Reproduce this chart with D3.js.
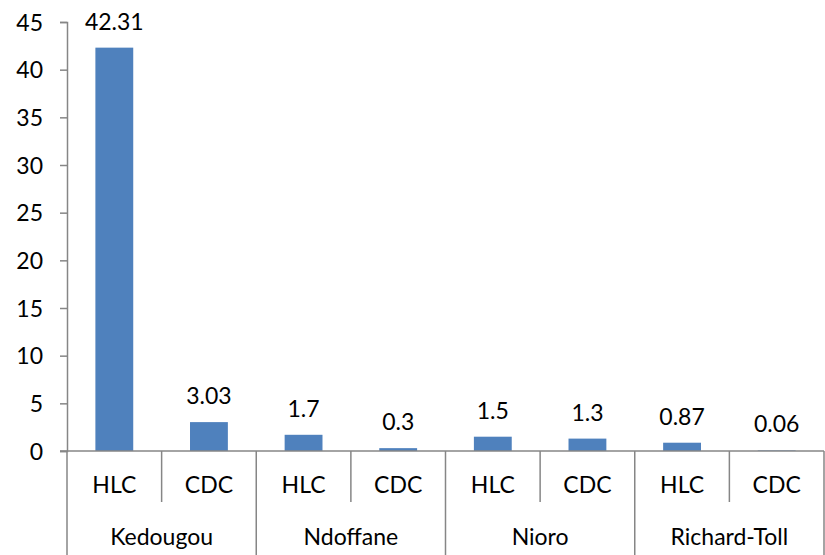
<!DOCTYPE html>
<html>
<head>
<meta charset="utf-8">
<script src="https://cdn.jsdelivr.net/npm/d3@7"></script>
<style>
  html, body { margin: 0; padding: 0; background: #fff; }
  svg text { font-family: Lato, "Open Sans", sans-serif; fill: #000; }
</style>
</head>
<body>
<svg id="chart" width="825" height="555"></svg>
<script>
// Sites (outer level) and measurement types (inner level)
const sites = ["Kedougou", "Ndoffane", "Nioro", "Richard-Toll"];
const types = ["HLC", "CDC"];
// One value per site/type pair, in site order
const values = [42.31, 3.03, 1.7, 0.3, 1.5, 1.3, 0.87, 0.06];
const valueLabels = ["42.31", "3.03", "1.7", "0.3", "1.5", "1.3", "0.87", "0.06"];
const yTicks = [0, 5, 10, 15, 20, 25, 30, 35, 40, 45];

const rows = [];
sites.forEach((s, i) => types.forEach((t, j) => {
  const k = i * types.length + j;
  rows.push({ key: s + "|" + t, site: s, type: t, value: values[k], label: valueLabels[k] });
}));

const svg = d3.select("#chart");
const M = { left: 67, right: 824, top: 22, base: 451, bottom: 555 };
const axisColor = "#868686";
const fs = 23;

const x = d3.scaleBand().domain(rows.map(d => d.key)).range([M.left, M.right]).paddingInner(0.6).paddingOuter(0.3);
const bandX = d3.scaleBand().domain(rows.map(d => d.key)).range([M.left, M.right]);
const siteX = d3.scaleBand().domain(sites).range([M.left, M.right]);
const y = d3.scaleLinear().domain([0, 45]).range([M.base, M.top]);

// y axis
const yAxis = svg.append("g").attr("transform", `translate(${M.left},0)`)
  .call(d3.axisLeft(y).tickValues(yTicks).tickSize(7).tickPadding(17).tickFormat(d3.format("d")));
yAxis.select(".domain").attr("stroke", axisColor).attr("stroke-width", 1.5);
yAxis.selectAll(".tick line").attr("stroke", axisColor).attr("stroke-width", 1.5);
yAxis.selectAll(".tick text").attr("font-size", fs).attr("dy", "0.36em").attr("fill", "#000");

// bars
svg.append("g").selectAll("rect").data(rows).join("rect")
  .attr("x", d => x(d.key))
  .attr("width", x.bandwidth())
  .attr("y", d => y(d.value))
  .attr("height", d => M.base - y(d.value))
  .attr("fill", "#4F81BD");

// value labels
svg.append("g").selectAll("text").data(rows).join("text")
  .attr("x", d => x(d.key) + x.bandwidth() / 2)
  .attr("y", d => y(d.value) - 18)
  .attr("text-anchor", "middle")
  .attr("font-size", fs)
  .text(d => d.label);

// category axis: baseline, inner separators, site separators
const cat = svg.append("g").attr("stroke", axisColor).attr("stroke-width", 1.5);
cat.append("line").attr("x1", M.left - 7).attr("x2", M.right).attr("y1", M.base).attr("y2", M.base);
rows.forEach((d, i) => {
  if (i % types.length !== 0) {
    const xx = bandX(d.key);
    cat.append("line").attr("x1", xx).attr("x2", xx).attr("y1", M.base).attr("y2", 502);
  }
});
sites.concat(["__end"]).forEach((s, i) => {
  const xx = i < sites.length ? siteX(s) : M.right;
  cat.append("line").attr("x1", xx).attr("x2", xx).attr("y1", M.base).attr("y2", M.bottom);
});

// inner labels
svg.append("g").selectAll("text").data(rows).join("text")
  .attr("x", d => bandX(d.key) + bandX.bandwidth() / 2)
  .attr("y", 493)
  .attr("text-anchor", "middle")
  .attr("font-size", fs)
  .text(d => d.type);

// site labels
svg.append("g").selectAll("text").data(sites).join("text")
  .attr("x", d => siteX(d) + siteX.bandwidth() / 2)
  .attr("y", 545)
  .attr("text-anchor", "middle")
  .attr("font-size", fs)
  .text(d => d);
</script>
</body>
</html>
